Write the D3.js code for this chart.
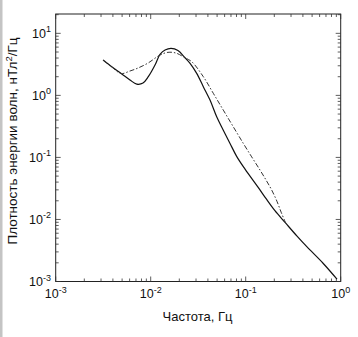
<!DOCTYPE html>
<html><head><meta charset="utf-8">
<script src="https://cdn.jsdelivr.net/npm/d3@7"></script>
<style>
html,body{margin:0;padding:0;background:#fff;}
svg{display:block;font-family:"Liberation Sans",Arial,sans-serif;}
</style></head>
<body>
<svg id="c" width="358" height="337"></svg>
<script>
// Frequency (Hz) and spectral density (nT^2/Hz)
const solidFreq = [0.00315,0.00392,0.00496,0.00605,0.00713,0.0083,0.00944,0.0111,0.01253,0.01416,0.01637,0.01936,0.02296,0.02596,0.0305,0.0358,0.0421,0.0495,0.0581,0.0684,0.0803,0.0984,0.136,0.164,0.203,0.264,0.347,0.442,0.652,0.914];
const solidVal  = [3.71,2.86,2.21,1.77,1.52,1.58,2.0,3.08,4.58,5.38,5.73,5.28,4.04,3.28,2.26,1.38,0.84,0.452,0.275,0.168,0.104,0.0648,0.0326,0.0216,0.01387,0.0087,0.00538,0.00361,0.00197,0.00109];
const dashFreq = [0.00315,0.00392,0.00487,0.00605,0.00735,0.00938,0.01253,0.0152,0.01845,0.02296,0.0271,0.0358,0.0456,0.0581,0.074,0.0944,0.1156,0.1416,0.164,0.188,0.213,0.236,0.264];
const dashVal  = [3.71,2.86,2.25,2.47,2.76,3.32,4.47,4.94,4.81,4.04,3.48,2.0,1.08,0.579,0.312,0.168,0.102,0.0624,0.043,0.0297,0.0197,0.0131,0.0087];
const xMajor = [0.001,0.01,0.1,1];
const xMajorExp = ["-3","-2","-1","0"];
const yMajor = [0.001,0.01,0.1,1,10];
const yMajorExp = ["-3","-2","-1","0","1"];
const xTitle = "Частота, Гц";
const yTitleMain = "Плотность энергии волн, нТл";
const yTitleSup = "2";
const yTitleEnd = "/Гц";

const svg = d3.select("#c");
const L=55.7, R=340.7, T=14, B=281.5;
const x = d3.scaleLog().domain([0.001,1]).range([L,R]);
const y = d3.scaleLog().domain([0.001,20.5]).range([B,T]);

// left gray border of the scan
svg.append("rect").attr("x",0).attr("y",0).attr("width",2.5).attr("height",337).attr("fill","#c4c4c4");

// frame
svg.append("rect").attr("x",L).attr("y",T).attr("width",R-L).attr("height",B-T)
  .attr("fill","none").attr("stroke","#222").attr("stroke-width",1);

// ticks
const g = svg.append("g").attr("stroke","#333").attr("stroke-width",0.8);
const xt = x.ticks().filter(v=>v>=0.001&&v<=1);
xt.forEach(v=>{
  const isMaj = xMajor.some(m=>Math.abs(m-v)/m<1e-6);
  const len = isMaj?5:3;
  const px = x(v);
  g.append("line").attr("x1",px).attr("x2",px).attr("y1",B).attr("y2",B-len);
  g.append("line").attr("x1",px).attr("x2",px).attr("y1",T).attr("y2",T+len);
});
const yt = y.ticks().filter(v=>v>=0.001&&v<=20.5);
yt.forEach(v=>{
  const isMaj = yMajor.some(m=>Math.abs(m-v)/m<1e-6);
  const len = isMaj?5:3;
  const py = y(v);
  g.append("line").attr("x1",L).attr("x2",L+len).attr("y1",py).attr("y2",py);
  g.append("line").attr("x1",R).attr("x2",R-len).attr("y1",py).attr("y2",py);
});

// tick labels
xMajor.forEach((v,i)=>{
  const t = svg.append("text").attr("x",x(v)).attr("y",298).attr("text-anchor","middle")
    .attr("font-size",12.5).attr("fill","#111");
  t.append("tspan").text("10");
  t.append("tspan").attr("dy",-5.5).attr("font-size",9).text(xMajorExp[i]);
});
yMajor.forEach((v,i)=>{
  const t = svg.append("text").attr("x",51).attr("y",y(v)+4.5).attr("text-anchor","end")
    .attr("font-size",12.5).attr("fill","#111");
  t.append("tspan").text("10");
  t.append("tspan").attr("dy",-5.5).attr("font-size",9).text(yMajorExp[i]);
});

// axis titles
svg.append("text").attr("x",197.5).attr("y",321).attr("text-anchor","middle")
  .attr("font-size",13).attr("fill","#111").text(xTitle);
const yt2 = svg.append("text").attr("transform","translate(17,141) rotate(-90)")
  .attr("text-anchor","middle").attr("font-size",13.5).attr("fill","#111");
yt2.append("tspan").text(yTitleMain);
yt2.append("tspan").attr("dy",-5.5).attr("font-size",9.5).text(yTitleSup);
yt2.append("tspan").attr("dy",5.5).text(yTitleEnd);

// curves
const line = d3.line().x(d=>x(d[0])).y(d=>y(d[1])).curve(d3.curveCatmullRom.alpha(0.5));
const solid = solidFreq.map((f,i)=>[f,solidVal[i]]);
const dash = dashFreq.map((f,i)=>[f,dashVal[i]]);
svg.append("path").attr("d",line(solid)).attr("fill","none").attr("stroke","#111").attr("stroke-width",1.2);
svg.append("path").attr("d",line(dash)).attr("fill","none").attr("stroke","#333").attr("stroke-width",1)
  .attr("stroke-dasharray","5,2,1.5,2");
</script>
</body></html>
